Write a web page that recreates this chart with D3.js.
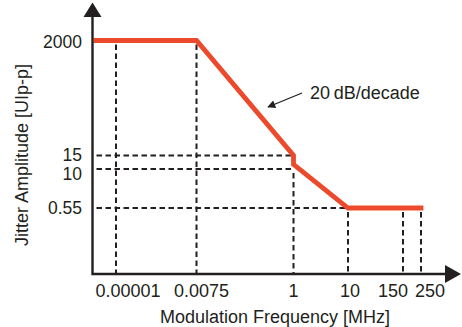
<!DOCTYPE html>
<html>
<head>
<meta charset="utf-8">
<script src="https://cdn.jsdelivr.net/npm/d3@7"></script>
<style>
  html, body { margin: 0; padding: 0; background: #fff; }
  svg { display: block; }
  text { font-family: "Liberation Sans", Arial, Helvetica, sans-serif; fill: #231f20; }
</style>
</head>
<body>
<svg id="chart" width="462" height="327"></svg>
<script>
// ---- data ----
const xTickValues = [0.00001, 0.0075, 1, 10, 150, 250];
const xTickLabels = ["0.00001", "0.0075", "1", "10", "150", "250"];
const yTickValues = [2000, 15, 10, 0.55];
const yTickLabels = ["2000", "15", "10", "0.55"];
// jitter tolerance mask (frequency MHz, amplitude UIp-p)
const maskFreq = [0.000001, 0.0075, 1, 1, 10, 250];
const maskAmp  = [2000, 2000, 15, 11.5, 0.55, 0.55];
// guide lines
const vGuideFreq = [0.00001, 0.0075, 1, 10, 150, 250];
const vGuideAmp  = [2000, 2000, 10, 0.55, 0.55, 0.55];
const hGuideAmp  = [15, 10, 0.55];
const hGuideFreq = [1, 1, 10];
const xTitle = "Modulation Frequency [MHz]";
const yTitle = "Jitter Amplitude [UIp-p]";
const annotation = "20\u2009dB/decade";

// ---- scales (schematic, piecewise logarithmic) ----
const x = d3.scaleLog()
  .domain([0.000001, 0.00001, 0.0075, 1, 10, 150, 250, 1000])
  .range([92.5, 116, 196.5, 293.5, 348, 403, 421, 447]);
const y = d3.scaleLog()
  .domain([0.1, 0.55, 10, 15, 2000, 20000])
  .range([274, 208, 169, 155.5, 40.5, 16]);

const svg = d3.select("#chart");
const ink = "#231f20";
const orange = "#ec4a2c";

// clip so the mask never crosses the y axis
svg.append("defs").append("clipPath").attr("id", "plotClip")
  .append("rect").attr("x", x(0.000001) + 1).attr("y", 0).attr("width", 400).attr("height", 300);

// arrow marker for annotation
svg.select("defs").append("marker")
  .attr("id", "ah").attr("viewBox", "0 0 10 10").attr("refX", 9).attr("refY", 5)
  .attr("markerWidth", 11).attr("markerHeight", 8).attr("markerUnits", "userSpaceOnUse")
  .attr("orient", "auto")
  .append("path").attr("d", "M0,0 L10,5 L0,10 Z").attr("fill", ink);

const dash = "5.5,3.5";
// vertical guides
svg.append("g").selectAll("line").data(vGuideFreq).join("line")
  .attr("x1", d => x(d)).attr("x2", d => x(d))
  .attr("y1", (d, i) => y(vGuideAmp[i]) + 4)
  .attr("y2", y(0.1))
  .attr("stroke", ink).attr("stroke-width", 2).attr("stroke-dasharray", dash);
// horizontal guides
svg.append("g").selectAll("line").data(hGuideAmp).join("line")
  .attr("y1", d => y(d)).attr("y2", d => y(d))
  .attr("x1", x(0.000001) + 4)
  .attr("x2", (d, i) => x(hGuideFreq[i]))
  .attr("stroke", ink).attr("stroke-width", 2).attr("stroke-dasharray", dash);

// mask line
const line = d3.line().x(d => x(d[0])).y(d => y(d[1]));
svg.append("path")
  .datum(maskFreq.map((f, i) => [f, maskAmp[i]]))
  .attr("d", line)
  .attr("fill", "none").attr("stroke", orange).attr("stroke-width", 4.8)
  .attr("stroke-linecap", "square").attr("stroke-linejoin", "miter")
  .attr("clip-path", "url(#plotClip)");

// axes
const x0 = x(0.000001), y0 = y(0.1);
svg.append("path")
  .attr("d", `M${x0},${y(20000)} L${x0},${y0} L${x(1000)},${y0}`)
  .attr("fill", "none").attr("stroke", ink).attr("stroke-width", 2.4);
// arrow heads
svg.append("path")
  .attr("d", `M${x0},2.5 L${x0 + 9},${y(20000) + 1} L${x0 - 9},${y(20000) + 1} Z`)
  .attr("fill", ink);
svg.append("path")
  .attr("d", `M461,${y0} L${x(1000) - 2},${y0 - 9} L${x(1000) - 2},${y0 + 9} Z`)
  .attr("fill", ink);

// tick labels
const xLabelDx = [12, 5, 0, 2, -10, 9];
svg.append("g").selectAll("text").data(xTickValues).join("text")
  .attr("x", (d, i) => x(d) + xLabelDx[i])
  .attr("y", 297)
  .attr("text-anchor", "middle")
  .attr("font-size", 18)
  .text((d, i) => xTickLabels[i]);

const yLabelDy = [1, -1, 4.5, 0];
svg.append("g").selectAll("text").data(yTickValues).join("text")
  .attr("x", 82)
  .attr("y", (d, i) => y(d) + yLabelDy[i])
  .attr("dy", "0.36em")
  .attr("text-anchor", "end")
  .attr("font-size", 17.5)
  .text((d, i) => yTickLabels[i]);

// axis titles
svg.append("text")
  .attr("x", 275).attr("y", 323)
  .attr("text-anchor", "middle").attr("font-size", 18)
  .text(xTitle);
svg.append("text")
  .attr("transform", "translate(28,155) rotate(-90)")
  .attr("text-anchor", "middle").attr("font-size", 18)
  .text(yTitle);

// annotation
svg.append("line")
  .attr("x1", 302).attr("y1", 93).attr("x2", 268).attr("y2", 107)
  .attr("stroke", ink).attr("stroke-width", 1.3)
  .attr("marker-end", "url(#ah)");
svg.append("text")
  .attr("x", 310).attr("y", 99)
  .attr("font-size", 18)
  .text(annotation);
</script>
</body>
</html>
